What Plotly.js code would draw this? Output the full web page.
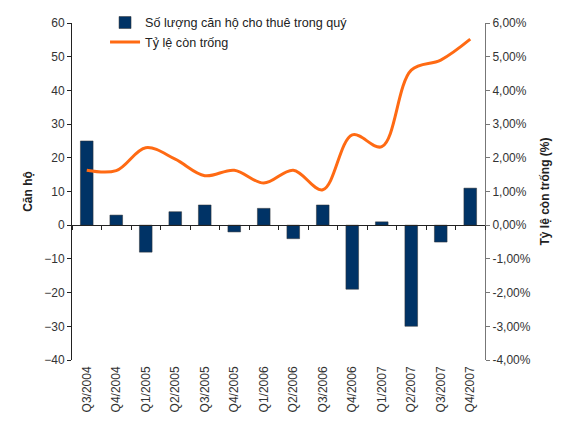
<!DOCTYPE html>
<html>
<head>
<meta charset="utf-8">
<script src="https://cdn.plot.ly/plotly-3.0.1.min.js"></script>
<style>
  html, body { margin: 0; padding: 0; background: #fff; }
  #chart { width: 575px; height: 423px; }
</style>
</head>
<body>
<div id="chart"></div>
<script>
const quarters = ['Q3/2004', 'Q4/2004', 'Q1/2005', 'Q2/2005', 'Q3/2005', 'Q4/2005', 'Q1/2006',
                  'Q2/2006', 'Q3/2006', 'Q4/2006', 'Q1/2007', 'Q2/2007', 'Q3/2007', 'Q4/2007'];
// rented units per quarter
const rentedUnits = [25, 3, -8, 4, 6, -2, 5, -4, 6, -19, 1, -30, -5, 11];
// vacancy rate, %
const vacancyRate = [1.63, 1.62, 2.3, 1.96, 1.47, 1.63, 1.25, 1.63, 1.05, 2.68, 2.33, 4.6, 4.9, 5.52];

const leftTicks = [-40, -30, -20, -10, 0, 10, 20, 30, 40, 50, 60];
const rightTicks = [-4, -3, -2, -1, 0, 1, 2, 3, 4, 5, 6];
const rightTickText = rightTicks.map(v => v.toFixed(2).replace('.', ',') + '%');

const FONT = 'Liberation Sans, Arial, sans-serif';

const bars = {
  type: 'bar',
  name: 'Số lượng căn hộ cho thuê trong quý',
  x: quarters,
  y: rentedUnits,
  marker: { color: '#003366', line: { color: '#333', width: 0.5 } },
  xaxis: 'x',
  yaxis: 'y'
};

const line = {
  type: 'scatter',
  mode: 'lines',
  name: 'Tỷ lệ còn trống',
  x: quarters,
  y: vacancyRate,
  line: { color: '#ff6a13', width: 3, shape: 'spline', smoothing: 1 },
  xaxis: 'x2',
  yaxis: 'y2'
};

const layout = {
  width: 575,
  height: 423,
  margin: { l: 72, r: 90, t: 23, b: 63, autoexpand: false },
  paper_bgcolor: '#fff',
  plot_bgcolor: 'rgba(0,0,0,0)',
  font: { family: FONT, size: 12, color: '#333' },
  showlegend: true,
  legend: {
    x: 0.08, y: 1.045, xanchor: 'left', yanchor: 'top',
    bgcolor: 'rgba(0,0,0,0)',
    font: { family: FONT, size: 12.6, color: '#222' },
    tracegroupgap: 4,
    traceorder: 'normal'
  },
  bargap: 0.57,
  xaxis: {
    type: 'category',
    categoryarray: quarters,
    range: [-0.5, 13.5],
    showline: false,
    showgrid: false,
    zeroline: false,
    ticks: '',
    tickangle: -90,
    ticklabelstandoff: 3,
    tickfont: { family: FONT, size: 12, color: '#333' },
    anchor: 'y'
  },
  xaxis2: {
    type: 'category',
    categoryarray: quarters,
    range: [-0.5, 13.5],
    overlaying: 'x',
    anchor: 'free',
    position: 0.4,
    showline: true,
    linecolor: '#222',
    linewidth: 1,
    showgrid: false,
    zeroline: false,
    showticklabels: false,
    ticks: 'outside',
    tickson: 'boundaries',
    ticklen: 4,
    tickcolor: '#222'
  },
  yaxis: {
    range: [-40, 60],
    tickmode: 'array',
    tickvals: leftTicks,
    showgrid: false,
    zeroline: false,
    showline: true,
    linecolor: '#222',
    linewidth: 1,
    ticks: 'outside',
    ticklen: 4,
    tickcolor: '#222',
    tickfont: { family: FONT, size: 12, color: '#333' },
    title: { text: '<b>Căn hộ</b>', font: { family: FONT, size: 12, color: '#222' }, standoff: 9 }
  },
  yaxis2: {
    range: [-4, 6],
    overlaying: 'y',
    side: 'right',
    anchor: 'x',
    tickmode: 'array',
    tickvals: rightTicks,
    ticktext: rightTickText,
    showgrid: false,
    zeroline: false,
    showline: true,
    linecolor: '#777',
    linewidth: 1,
    ticks: 'outside',
    ticklen: 4,
    tickcolor: '#777',
    tickfont: { family: FONT, size: 12, color: '#333' },
    title: { text: '<b>Tỷ lệ còn trống (%)</b>', font: { family: FONT, size: 12, color: '#222' }, standoff: 10 }
  }
};

Plotly.newPlot('chart', [bars, line], layout, { displayModeBar: false, staticPlot: true });
</script>
</body>
</html>
